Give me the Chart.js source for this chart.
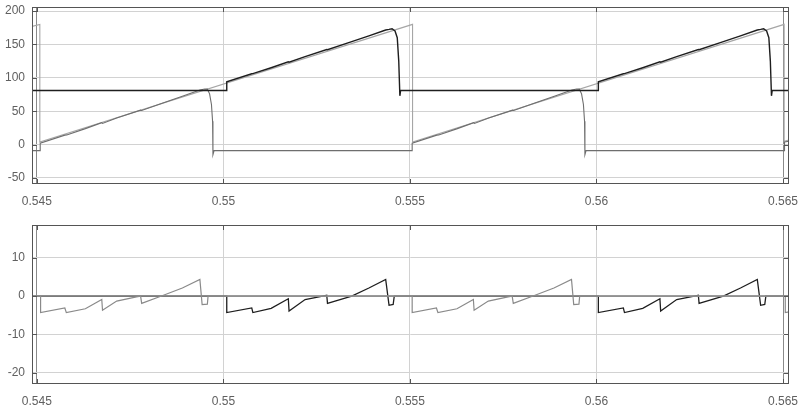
<!DOCTYPE html>
<html>
<head>
<meta charset="utf-8">
<script src="https://cdn.jsdelivr.net/npm/chart.js@4.4.0/dist/chart.umd.min.js"></script>
<style>
  body { margin: 0; background: #fff; }
  #wrap { position: relative; width: 800px; height: 412px; }
  #c1 { position: absolute; left: 0; top: 0; }
  #c2 { position: absolute; left: 0; top: 212px; }
</style>
</head>
<body>
<div id="wrap">
  <canvas id="c1" width="800" height="212"></canvas>
  <canvas id="c2" width="800" height="200"></canvas>
</div>
<script>
// x axis (time, s)
const xMin = 0.54487, xMax = 0.56516;
const xTickVals = [0.545, 0.55, 0.555, 0.56, 0.565];
const xTickLabels = ['0.545', '0.55', '0.555', '0.56', '0.565'];

// top panel ticks
const topTicks = [-50, 0, 50, 100, 150, 200];
// bottom panel ticks
const botTicks = [-20, -10, 0, 10];

// top: reference sawtooth (light gray)
const sawT = [0.54487, 0.54508, 0.54508, 0.55507, 0.55507, 0.56503, 0.56503, 0.56516];
const sawY = [177, 180, 4, 180, 4, 180, 5, 7];

// top: black trace
const blkT = [0.54487, 0.55009, 0.55009, 0.55076, 0.55079, 0.55128, 0.55174, 0.55176, 0.55219, 0.55277, 0.55279, 0.55344, 0.55390, 0.55435, 0.55444, 0.55452, 0.55460, 0.55466, 0.55470, 0.55473, 0.55475,
              0.56005, 0.56005, 0.56072, 0.56075, 0.56124, 0.56170, 0.56172, 0.56215, 0.56273, 0.56275, 0.56340, 0.56386, 0.56431, 0.56440, 0.56448, 0.56456, 0.56462, 0.56466, 0.56469, 0.56471, 0.56516];
const blkY = [81, 81, 94, 106.1, 106.2, 115.1, 124.0, 123.4, 131.8, 142.4, 142.1, 154.1, 162.8, 171.5, 172.5, 173.5, 170, 160, 125, 73, 81,
              81, 94, 106.1, 106.2, 115.1, 124.0, 123.4, 131.8, 142.4, 142.1, 154.1, 162.8, 171.5, 172.5, 173.5, 170, 160, 125, 73, 81, 81];

// top: gray trace
const gryT = [0.54487, 0.54509, 0.54509, 0.54575, 0.54580, 0.54630, 0.54674, 0.54676, 0.54714, 0.54778, 0.54781, 0.54834, 0.54890, 0.54937, 0.54950, 0.54957, 0.54963, 0.54968, 0.54971, 0.54972, 0.54975,
              0.55506, 0.55506, 0.55572, 0.55577, 0.55627, 0.55671, 0.55673, 0.55711, 0.55775, 0.55778, 0.55831, 0.55887, 0.55934, 0.55947, 0.55954, 0.55960, 0.55965, 0.55968, 0.55969, 0.55972,
              0.56504, 0.56504, 0.56516];
const gryY = [-9, -9, 2, 14.2, 14.5, 23.9, 32.8, 31.7, 39.7, 51.5, 51.1, 61.4, 72.3, 81.7, 83.2, 83, 76, 60, 35, -15, -9,
              -9, 2, 14.2, 14.5, 23.9, 32.8, 31.7, 39.7, 51.5, 51.1, 61.4, 72.3, 81.7, 83.2, 83, 76, 60, 35, -15, -9,
              -9, 4, 5];

// bottom: zero reference line
const zeroT = [0.54487, 0.56516];
const zeroY = [0, 0];

// bottom: gray error
const egT = [0.54487, 0.54510, 0.54510, 0.54575, 0.54579, 0.54630, 0.54674, 0.54676, 0.54714, 0.54767, 0.54778, 0.54781, 0.54834, 0.54890, 0.54937, 0.54943, 0.54957, 0.54959,
             0.55506, 0.55506, 0.55571, 0.55575, 0.55626, 0.55670, 0.55672, 0.55710, 0.55763, 0.55774, 0.55777, 0.55830, 0.55886, 0.55933, 0.55939, 0.55953, 0.55955,
             0.56506, 0.56506, 0.56516];
const egY = [0, 0, -4.3, -3.1, -4.3, -3.3, -0.9, -3.7, -1.3, -0.2, 0, -1.9, 0, 2.1, 4.3, -2.2, -2.1, 0,
             0, -4.3, -3.1, -4.3, -3.3, -0.9, -3.7, -1.3, -0.2, 0, -1.9, 0, 2.1, 4.3, -2.2, -2.1, 0,
             0, -4.3, -4.1];

// bottom: black error
const ebT = [0.54487, 0.55009, 0.55009, 0.55076, 0.55079, 0.55128, 0.55174, 0.55176, 0.55219, 0.55266, 0.55277, 0.55279, 0.55344, 0.55390, 0.55435, 0.55444, 0.55455, 0.55458,
             0.56005, 0.56005, 0.56072, 0.56075, 0.56124, 0.56170, 0.56172, 0.56215, 0.56262, 0.56273, 0.56275, 0.56340, 0.56386, 0.56431, 0.56440, 0.56451, 0.56454, 0.56516];
const ebY = [0, 0, -4.3, -3.1, -4.3, -3.2, -0.7, -3.9, -0.9, 0, 0.2, -1.9, 0, 2.1, 4.3, -2.4, -2.2, 0,
             0, -4.3, -3.1, -4.3, -3.2, -0.7, -3.9, -0.9, 0, 0.2, -1.9, 0, 2.1, 4.3, -2.4, -2.2, 0, 0];

function pts(ts, ys) {
    return ts.map((t, i) => ({x: t, y: ys[i]}));
}

function line(data, color, width) {
    return {data: data, borderColor: color, borderWidth: width, pointRadius: 0, fill: false, tension: 0};
}

// box round the plot with small ticks pointing inwards
const boxTicks = {
    id: 'boxTicks',
    afterDraw(chart) {
        const {ctx, chartArea: a, scales} = chart;
        ctx.save();
        ctx.strokeStyle = '#555';
        ctx.lineWidth = 1;
        ctx.strokeRect(a.left + 0.5, a.top + 0.5, a.right - a.left - 1, a.bottom - a.top - 1);
        ctx.beginPath();
        scales.x.ticks.forEach(t => {
            const px = Math.round(scales.x.getPixelForValue(t.value)) + 0.5;
            ctx.moveTo(px, a.top); ctx.lineTo(px, a.top + 5);
            ctx.moveTo(px, a.bottom); ctx.lineTo(px, a.bottom - 5);
        });
        scales.y.ticks.forEach(t => {
            const py = Math.round(scales.y.getPixelForValue(t.value)) + 0.5;
            ctx.moveTo(a.left, py); ctx.lineTo(a.left + 5, py);
            ctx.moveTo(a.right, py); ctx.lineTo(a.right - 5, py);
        });
        ctx.stroke();
        ctx.restore();
    }
};

function makeOptions(yMin, yMax, yTicks, padTop) {
    const font = {family: 'Liberation Sans', size: 12};
    return {
        responsive: false,
        animation: false,
        layout: {padding: {top: padTop, right: 11, left: 0, bottom: 0}},
        plugins: {legend: {display: false}, tooltip: {enabled: false}},
        scales: {
            x: {
                type: 'linear', min: xMin, max: xMax,
                afterBuildTicks: s => { s.ticks = xTickVals.map(v => ({value: v})); },
                afterFit: s => { s.height = 28; s.paddingLeft = 0; s.paddingRight = 0; },
                grid: {
                    color: c => (c.tick && (c.tick.value === 0.545 || c.tick.value === 0.565)) ? '#8a8a8a' : '#d2d2d2',
                    drawTicks: false,
                    lineWidth: 1
                },
                border: {display: false},
                ticks: {color: '#606060', font: font, padding: 10, maxRotation: 0,
                        callback: (v, i) => xTickLabels[i]}
            },
            y: {
                type: 'linear', min: yMin, max: yMax,
                afterBuildTicks: s => { s.ticks = yTicks.map(v => ({value: v})); },
                afterFit: s => { s.width = 32; s.paddingTop = 0; s.paddingBottom = 0; },
                grid: {color: '#d2d2d2', drawTicks: false, lineWidth: 1},
                border: {display: false},
                ticks: {color: '#606060', font: font, padding: 7,
                        callback: v => String(v)}
            }
        }
    };
}

// top panel
new Chart(document.getElementById('c1').getContext('2d'), {
    type: 'line',
    data: {
        datasets: [
            line(pts(blkT, blkY), '#1e1e1e', 1.4),
            line(pts(gryT, gryY), '#6e6e6e', 1.1),
            line(pts(sawT, sawY), '#a6a6a6', 1.1)
        ]
    },
    options: makeOptions(-59, 206, topTicks, 7),
    plugins: [boxTicks]
});

// bottom panel
new Chart(document.getElementById('c2').getContext('2d'), {
    type: 'line',
    data: {
        datasets: [
            line(pts(zeroT, zeroY), '#8c8c8c', 1.6),
            line(pts(egT, egY), '#8a8a8a', 1.2),
            line(pts(ebT, ebY), '#1e1e1e', 1.3)
        ]
    },
    options: makeOptions(-22.9, 18.5, botTicks, 13),
    plugins: [boxTicks]
});
</script>
</body>
</html>
